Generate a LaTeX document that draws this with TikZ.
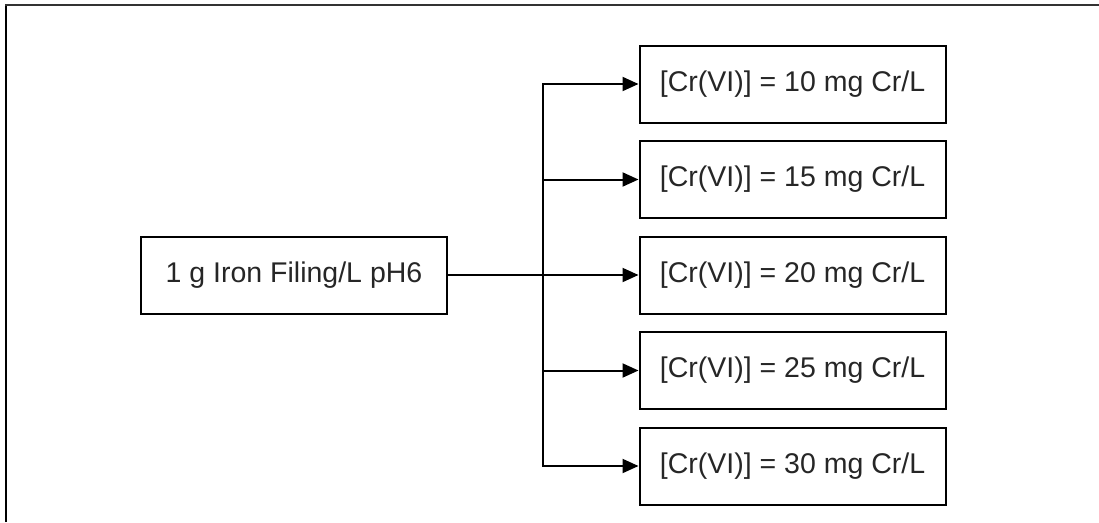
\documentclass[tikz,border=0pt]{standalone}
\usepackage{fontspec}
\setmainfont{Liberation Sans}
\usetikzlibrary{arrows.meta}
\tikzset{
  box/.style={draw, line width=2pt, minimum width=306pt, minimum height=77pt,
    inner sep=0pt, font=\fontsize{28.5}{34}\selectfont, text=black!85},
  link/.style={line width=2pt, line cap=rect,
    -{Triangle[length=16pt,width=14pt,line join=miter]}},
  frameline/.style={line width=2.2pt}
}
\begin{document}
\begin{tikzpicture}[x=1pt,y=-1pt]
\useasboundingbox (0,0) rectangle (1099,522);
% open frame: left and top edges
\draw[frameline] (6,522) -- (6,5);
\draw[frameline, black!80] (5,5) -- (1099,5);

% source condition
\node[box] (src) at (294,275) {1 g Iron Filing/L pH6};

% Cr(VI) concentrations
\node[box] (c1) at (792.5,84)    {[Cr(VI)] = 10 mg Cr/L};
\node[box] (c2) at (792.5,179.5) {[Cr(VI)] = 15 mg Cr/L};
\node[box] (c3) at (792.5,275)   {[Cr(VI)] = 20 mg Cr/L};
\node[box] (c4) at (792.5,370.5) {[Cr(VI)] = 25 mg Cr/L};
\node[box] (c5) at (792.5,466)   {[Cr(VI)] = 30 mg Cr/L};

% junction points on the vertical bus
\path (c1.west) ++(-96,0) coordinate (j1);
\path (c2.west) ++(-96,0) coordinate (j2);
\path (c4.west) ++(-96,0) coordinate (j4);
\path (c5.west) ++(-96,0) coordinate (j5);

% connectors
\draw[link] (src) -- (c3);
\draw[link] (j5) |- (c1);
\draw[link] (j2) -- (c2);
\draw[link] (j4) -- (c4);
\draw[link] (j5) -- (c5);
\end{tikzpicture}
\end{document}
